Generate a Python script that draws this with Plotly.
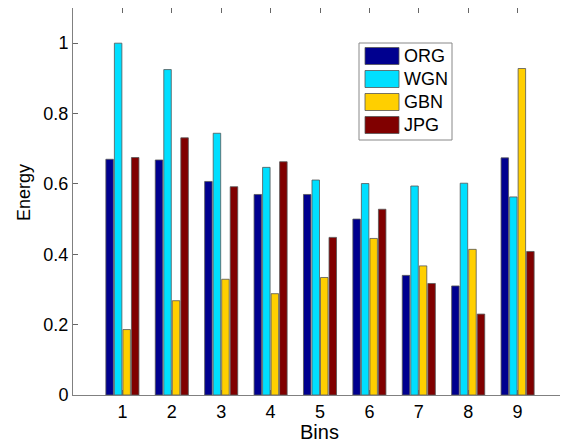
import plotly.graph_objects as go

bins = [1, 2, 3, 4, 5, 6, 7, 8, 9]
series_names = ["ORG", "WGN", "GBN", "JPG"]
org = [0.670, 0.668, 0.607, 0.570, 0.570, 0.500, 0.340, 0.310, 0.674]
wgn = [1.000, 0.925, 0.744, 0.647, 0.611, 0.601, 0.594, 0.602, 0.563]
gbn = [0.186, 0.268, 0.329, 0.288, 0.334, 0.445, 0.367, 0.414, 0.928]
jpg = [0.675, 0.731, 0.592, 0.663, 0.448, 0.528, 0.317, 0.230, 0.408]
y_ticks = [0, 0.2, 0.4, 0.6, 0.8, 1]
y_tick_labels = ["0", "0.2", "0.4", "0.6", "0.8", "1"]
colors = ["#00008F", "#00DFFF", "#FFCF00", "#800000"]

# page has an 8px body margin: figure is placed at (8, 8)
OFF = 8
W, H = 568 - OFF, 444 - OFF
L, R, T, B = 73 - OFF, 1, 0, 49
pw, ph = W - L - R, H - T - B
plot_left_page, plot_bottom_page = L + OFF, H - B + OFF


def px(x):
    return (x - plot_left_page) / pw


def py(y):
    return (plot_bottom_page - y) / ph


fig = go.Figure()
for name, vals, c in zip(series_names, [org, wgn, gbn, jpg], colors):
    fig.add_trace(go.Bar(x=bins, y=vals, name=name, showlegend=False,
                         marker=dict(color=c, line=dict(color="#555555", width=0.8))))

# custom legend (large swatches like the original)
shapes = [dict(type="rect", xref="paper", yref="paper",
               x0=px(359), x1=px(452), y0=py(140), y1=py(43),
               fillcolor="white", line=dict(color="#888888", width=1), layer="above")]
annotations = []
for i, (name, c) in enumerate(zip(series_names, colors)):
    cy = 56 + i * 23
    shapes.append(dict(type="rect", xref="paper", yref="paper",
                       x0=px(365), x1=px(399), y0=py(cy + 8.5), y1=py(cy - 8.5),
                       fillcolor=c, line=dict(color="#555555", width=0.8), layer="above"))
    annotations.append(dict(xref="paper", yref="paper", x=px(402), y=py(cy),
                            xanchor="left", yanchor="middle", text=name, showarrow=False,
                            font=dict(size=18, color="black")))

# axis titles
annotations.append(dict(xref="paper", yref="paper", x=px(319), y=py(432),
                        xanchor="center", yanchor="middle", text="Bins", showarrow=False,
                        font=dict(size=20, color="black")))
annotations.append(dict(xref="paper", yref="paper", x=px(24), y=py(193),
                        xanchor="center", yanchor="middle", text="Energy", showarrow=False,
                        textangle=-90, font=dict(size=18, color="black")))

font = "Liberation Sans, Arial, sans-serif"
fig.update_layout(
    width=W, height=H,
    margin=dict(l=L, r=R, t=T, b=B, autoexpand=False),
    paper_bgcolor="white", plot_bgcolor="white",
    barmode="group", bargap=0.31, bargroupgap=0.12,
    font=dict(family=font, size=18, color="black"),
    showlegend=False,
    shapes=shapes, annotations=annotations,
    xaxis=dict(range=[0, 10], tickvals=bins, ticktext=[str(b) for b in bins], automargin=False,
               ticks="inside", ticklen=5, tickcolor="#666666", mirror="ticks",
               showline=True, linecolor="#808080", linewidth=1, showgrid=False, zeroline=False),
    yaxis=dict(range=[0, 1.1], tickvals=y_ticks, ticktext=y_tick_labels, automargin=False,
               ticks="inside", ticklen=5, tickcolor="#666666", mirror="ticks",
               showline=True, linecolor="#808080", linewidth=1, showgrid=False, zeroline=False),
)
fig.write_html("out.html")
